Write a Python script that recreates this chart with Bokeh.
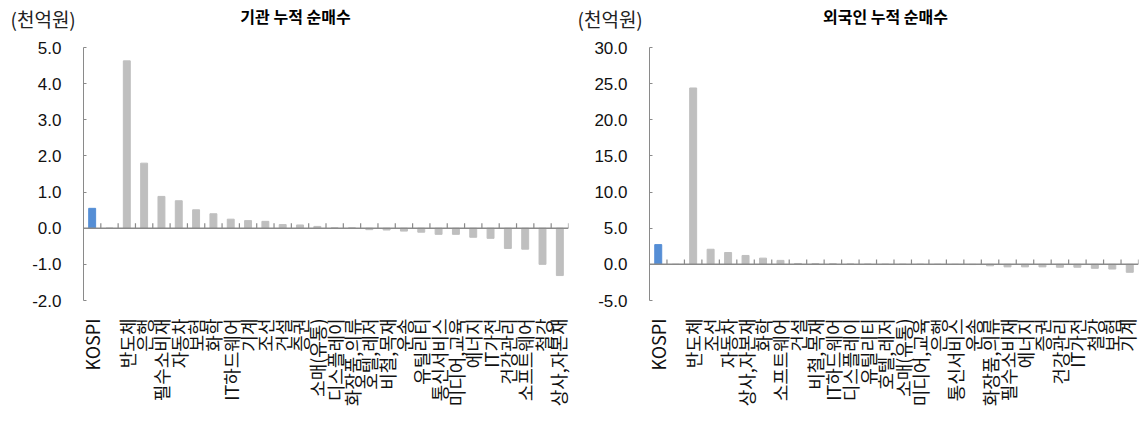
import math
from bokeh.plotting import figure
from bokeh.models import ColumnDataSource, FactorRange, FixedTicker, NumeralTickFormatter, Span, Range1d
from bokeh.core.properties import value
from bokeh.transform import dodge
from bokeh.layouts import row, column
from bokeh.embed import file_html
from bokeh.resources import INLINE

# ---------------- data ----------------
inst_categories = ["KOSPI", " ", "반도체", "은행", "필수소비재", "자동차", "보험", "화학",
                   "IT하드웨어", "기계", "조선", "건설", "증권", "소매(유통)", "디스플레이",
                   "화장품,의류", "호텔,레저", "비철,목재", "운송", "유틸리티", "통신서비스",
                   "미디어,교육", "에너지", "IT가전", "건강관리", "소프트웨어", "철강", "상사,자본재"]
inst_values = [0.55, 0.0, 4.63, 1.80, 0.88, 0.76, 0.51, 0.40, 0.25, 0.21, 0.19, 0.10, 0.09,
               0.05, 0.01, 0.01, -0.04, -0.05, -0.08, -0.11, -0.17, -0.17, -0.25, -0.28,
               -0.56, -0.58, -1.00, -1.31]

frgn_categories = ["KOSPI", " ", "반도체", "조선", "자동차", "상사,자본재", "화학", "소프트웨어",
                   "건설", "비철,목재", "IT하드웨어", "디스플레이", "유틸리티", "호텔,레저",
                   "소매(유통)", "미디어,교육", "은행", "통신서비스", "운송", "화장품,의류",
                   "필수소비재", "에너지", "증권", "건강관리", "IT가전", "철강", "보험", "기계"]
frgn_values = [2.73, 0.0, 24.4, 2.09, 1.64, 1.23, 0.86, 0.55, 0.12, 0.10, 0.08, 0.06, 0.04,
               0.02, 0.01, 0.01, 0.0, -0.01, -0.03, -0.20, -0.35, -0.35, -0.35, -0.40,
               -0.40, -0.55, -0.65, -1.10]

inst_yticks = [-2, -1, 0, 1, 2, 3, 4, 5]
frgn_yticks = [-5, 0, 5, 10, 15, 20, 25, 30]

unit_text = "(천억원)"
panel_titles = ["기관 누적 순매수", "외국인 누적 순매수"]

# ---------------- style ----------------
BLUE = "#558ED5"
GRAY = "#BFBFBF"
AXIS = "#8A8A8A"
KFONT = "Noto Sans CJK KR"
NFONT = "Liberation Sans"
W, H = 1139, 422
HEADER_H = 32


def header():
    h = figure(width=W, height=HEADER_H, x_range=Range1d(0, W), y_range=Range1d(HEADER_H, 0),
               output_backend="svg", toolbar_location=None,
               min_border_left=0, min_border_right=0, min_border_top=0, min_border_bottom=0,
               x_axis_type=None, y_axis_type=None)
    h.outline_line_color = None
    h.xgrid.visible = False
    h.ygrid.visible = False
    h.text(x=[10, 577], y=[18, 18], text=[unit_text, unit_text], text_font=value(KFONT),
           text_font_size=value("19px"), text_color="#222222",
           text_baseline="middle", text_align="left")
    h.text(x=[295, 885], y=[15, 15], text=panel_titles, text_font=value(KFONT),
           text_font_size=value("16px"), text_font_style="bold", text_color="#000000",
           text_baseline="middle", text_align="center")
    return h


def panel(cats, vals, yticks, width, height, bl, br, bt, bb):
    colors = [BLUE if c == "KOSPI" else GRAY for c in cats]
    src = ColumnDataSource(dict(cat=cats, val=vals, color=colors))
    ymin, ymax = yticks[0], yticks[-1]
    p = figure(x_range=FactorRange(*cats), y_range=(ymin, ymax),
               width=width, height=height, output_backend="svg", toolbar_location=None,
               min_border_left=bl, min_border_right=br, min_border_top=bt, min_border_bottom=bb)
    p.outline_line_color = None
    p.xgrid.visible = False
    p.ygrid.visible = False

    p.vbar(x="cat", top="val", width=0.4, color="color", source=src)

    frame_h = height - bt - bb
    tick_len = 5 * (ymax - ymin) / frame_h
    p.segment(x0=dodge("cat", 0.5, range=p.x_range), y0=0,
              x1=dodge("cat", 0.5, range=p.x_range), y1=tick_len,
              line_color=AXIS, line_width=1.2, source=src)
    p.add_layout(Span(location=0, dimension="width", line_color=AXIS, line_width=1.5))

    xa = p.xaxis[0]
    xa.axis_line_color = None
    xa.major_tick_line_color = None
    xa.minor_tick_line_color = None
    xa.major_label_orientation = math.pi / 2
    xa.major_label_text_font = KFONT
    xa.major_label_text_font_size = "18px"
    xa.major_label_text_color = "#111111"
    xa.major_label_standoff = 12

    ya = p.yaxis[0]
    ya.ticker = FixedTicker(ticks=yticks)
    ya.formatter = NumeralTickFormatter(format="0.0")
    ya.axis_line_color = AXIS
    ya.major_tick_line_color = AXIS
    ya.major_tick_in = 3
    ya.major_tick_out = 0
    ya.minor_tick_line_color = None
    ya.major_label_text_font = NFONT
    ya.major_label_text_font_size = "17px"
    ya.major_label_text_color = "#111111"
    ya.major_label_standoff = 22
    return p


hdr = header()
p1 = panel(inst_categories, inst_values, inst_yticks,
           width=570, height=H - HEADER_H, bl=83, br=2, bt=47 - HEADER_H, bb=122)
p2 = panel(frgn_categories, frgn_values, frgn_yticks,
           width=569, height=H - HEADER_H, bl=79, br=1, bt=44 - HEADER_H, bb=121)

layout = column(hdr, row(p1, p2))
open("out.html", "w").write(file_html(layout, INLINE))
